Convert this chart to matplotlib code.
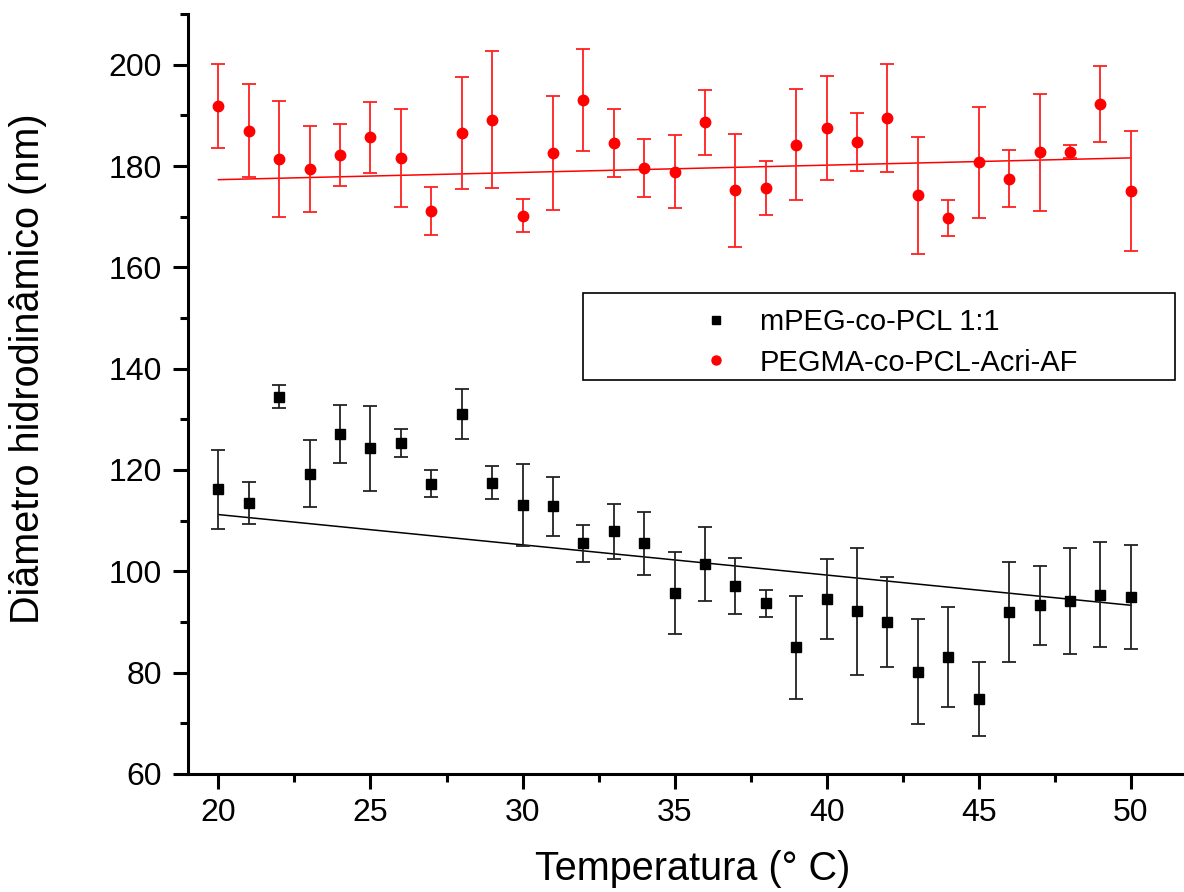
import numpy as np
import matplotlib
matplotlib.use('Agg')
import matplotlib.pyplot as plt
from matplotlib.patches import Rectangle
from matplotlib.lines import Line2D
from matplotlib.ticker import MultipleLocator

plt.rcParams['font.family'] = ['Liberation Sans', 'DejaVu Sans']

# temperature (deg C)
temps = np.arange(20, 51)

# mPEG-co-PCL 1:1
black_vals = [116.2, 113.5, 134.5, 119.3, 127.1, 124.3, 125.3, 117.3, 131.0, 117.5,
              113.0, 112.8, 105.5, 107.9, 105.5, 95.7, 101.5, 97.1, 93.7, 85.0,
              94.5, 92.1, 90.0, 80.2, 83.1, 74.8, 92.0, 93.3, 94.1, 95.4, 94.9]
black_err = [7.8, 4.2, 2.2, 6.6, 5.7, 8.4, 2.7, 2.7, 4.9, 3.2,
             8.1, 5.8, 3.7, 5.4, 6.2, 8.1, 7.3, 5.5, 2.7, 10.2,
             7.9, 12.6, 8.8, 10.3, 9.8, 7.4, 9.9, 7.8, 10.5, 10.3, 10.3]

# PEGMA-co-PCL-Acri-AF
red_vals = [191.9, 187.0, 181.4, 179.4, 182.1, 185.7, 181.6, 171.1, 186.5, 189.1,
            170.2, 182.6, 193.0, 184.6, 179.6, 178.9, 188.6, 175.2, 175.6, 184.2,
            187.5, 184.7, 189.5, 174.2, 169.7, 180.7, 177.5, 182.7, 182.8, 192.2, 175.1]
red_err = [8.3, 9.2, 11.4, 8.5, 6.1, 7.0, 9.7, 4.7, 11.0, 13.5,
           3.2, 11.2, 10.1, 6.7, 5.8, 7.2, 6.4, 11.1, 5.3, 10.9,
           10.2, 5.7, 10.6, 11.5, 3.5, 11.0, 5.6, 11.5, 1.3, 7.5, 11.9]

labels = ['mPEG-co-PCL 1:1', 'PEGMA-co-PCL-Acri-AF']

# linear fits (end points)
fit_t = [20, 50]
black_fit = [111.2, 93.3]
red_fit = [177.3, 181.6]

fig = plt.figure(figsize=(11.84, 8.92), dpi=100)
ax = fig.add_axes([0.1588, 0.1323, 0.8412, 0.852])

ax.errorbar(temps, black_vals, yerr=black_err, fmt='s', color='black', ms=6.5,
            ecolor='#222222', elinewidth=1.3, capsize=5, capthick=1.3, zorder=3)
ax.errorbar(temps, red_vals, yerr=red_err, fmt='o', color='red', ms=7.5,
            ecolor='#ff2020', elinewidth=1.3, capsize=5, capthick=1.3, zorder=3)
ax.plot(fit_t, black_fit, color='black', lw=1.1, zorder=2)
ax.plot(fit_t, red_fit, color='red', lw=1.1, zorder=2)

ax.set_xlim(19, 51.75)
ax.set_ylim(60, 210)
ax.xaxis.set_major_locator(MultipleLocator(5))
ax.xaxis.set_minor_locator(MultipleLocator(2.5))
ax.yaxis.set_major_locator(MultipleLocator(20))
ax.yaxis.set_minor_locator(MultipleLocator(10))

for s in ['top', 'right']:
    ax.spines[s].set_visible(False)
for s in ['left', 'bottom']:
    ax.spines[s].set_linewidth(2.2)

ax.tick_params(which='major', direction='out', length=11, width=2.2, labelsize=23)
ax.tick_params(axis='x', which='major', pad=6)
ax.tick_params(axis='y', which='major', pad=8)
ax.tick_params(which='minor', direction='out', length=5.5, width=2.2)

ax.set_xlabel('Temperatura (° C)', fontsize=28.5)
ax.set_ylabel('Diâmetro hidrodinâmico (nm)', fontsize=28.5)
ax.xaxis.set_label_coords(0.507, -0.100)
ax.yaxis.set_label_coords(-0.142, 0.533)

# legend frame drawn separately to match the original box
ax.add_patch(Rectangle((0.3966, 0.519), 0.594, 0.114, transform=ax.transAxes,
                       fill=False, edgecolor='black', lw=1.2, zorder=4))
handles = [Line2D([], [], ls='none', marker='s', color='black', ms=5.5),
           Line2D([], [], ls='none', marker='o', color='red', ms=6.5)]
ax.legend(handles, labels, loc='upper left', bbox_to_anchor=(0.5155, 0.6135),
          frameon=False, fontsize=21, handletextpad=1.0, borderpad=0,
          labelspacing=0.44, handlelength=1.0, borderaxespad=0)

fig.savefig('out.png', dpi=100)
